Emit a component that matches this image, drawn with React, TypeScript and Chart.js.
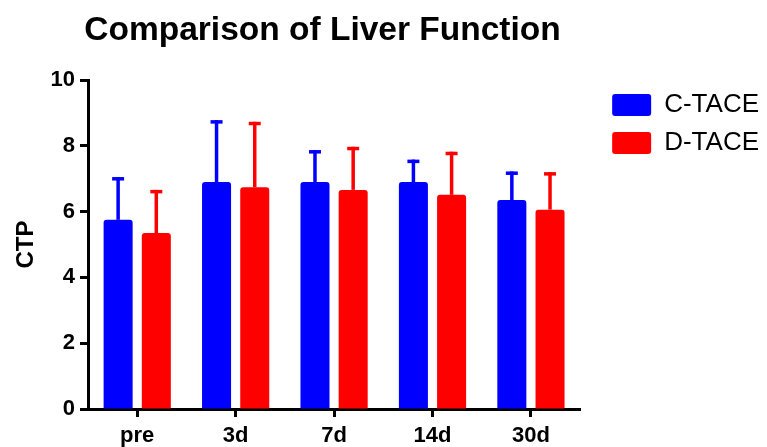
import React, { useEffect, useRef } from "react";
import { Chart, registerables } from "chart.js";

Chart.register(...registerables);

const categories = ["pre", "3d", "7d", "14d", "30d"];
const seriesNames = ["C-TACE", "D-TACE"];
const cTaceMean = [5.75, 6.9, 6.9, 6.9, 6.35];
const cTaceSD = [1.3, 1.88, 0.97, 0.68, 0.87];
const dTaceMean = [5.35, 6.74, 6.66, 6.51, 6.06];
const dTaceSD = [1.31, 1.99, 1.31, 1.31, 1.14];
const yTicks = [0, 2, 4, 6, 8, 10];
const titleText = "Comparison of Liver Function";
const yTitle = "CTP";

const FONT = '"Liberation Sans", Arial, Helvetica, sans-serif';
const BLUE = "#0000FF";
const RED = "#FF0000";

const errorBarPlugin = {
  id: "errorBars",
  afterDatasetsDraw(chart: any) {
    const ctx = chart.ctx;
    const yScale = chart.scales.y;
    chart.data.datasets.forEach((ds: any, di: number) => {
      const meta = chart.getDatasetMeta(di);
      if (meta.hidden) return;
      const sds: number[] = ds.sd;
      meta.data.forEach((bar: any, i: number) => {
        const top = yScale.getPixelForValue(ds.data[i] + sds[i]);
        const lw = 3.5;
        ctx.save();
        ctx.strokeStyle = ds.backgroundColor;
        ctx.lineWidth = lw;
        ctx.lineCap = "butt";
        ctx.beginPath();
        ctx.moveTo(bar.x, bar.y);
        ctx.lineTo(bar.x, top);
        ctx.stroke();
        ctx.beginPath();
        ctx.moveTo(bar.x - 6, top + lw / 2);
        ctx.lineTo(bar.x + 6, top + lw / 2);
        ctx.stroke();
        ctx.restore();
      });
    });
  },
};

const titlePlugin = {
  id: "customTitle",
  afterDraw(chart: any) {
    const ctx = chart.ctx;
    ctx.save();
    ctx.font = `bold 33.5px ${FONT}`;
    ctx.fillStyle = "#000";
    ctx.textAlign = "center";
    ctx.textBaseline = "alphabetic";
    ctx.fillText(titleText, 322.5, 40);
    ctx.restore();
  },
};

export default function App() {
  const canvasRef = useRef<HTMLCanvasElement | null>(null);

  useEffect(() => {
    if (!canvasRef.current) return;
    const chart = new Chart(canvasRef.current, {
      type: "bar",
      data: {
        labels: categories,
        datasets: [
          {
            label: seriesNames[0],
            data: cTaceMean,
            sd: cTaceSD,
            backgroundColor: BLUE,
            borderRadius: 3,
            categoryPercentage: 0.776,
            barPercentage: 0.76,
          } as any,
          {
            label: seriesNames[1],
            data: dTaceMean,
            sd: dTaceSD,
            backgroundColor: RED,
            borderRadius: 3,
            categoryPercentage: 0.776,
            barPercentage: 0.76,
          } as any,
        ],
      },
      options: {
        animation: false,
        responsive: false,
        devicePixelRatio: 1,
        layout: { padding: { top: 80, left: 0, right: -2, bottom: 0 } },
        plugins: {
          title: { display: false },
          tooltip: { enabled: false },
          legend: {
            display: true,
            position: "right",
            align: "start",
            maxWidth: 400,
            labels: {
              boxWidth: 39,
              boxHeight: 22,
              padding: 12,
              color: "#000",
              useBorderRadius: true,
              borderRadius: 3,
              font: { family: FONT, size: 26, weight: "normal" },
            },
          },
        },
        scales: {
          x: {
            type: "category",
            grid: {
              display: true,
              drawOnChartArea: false,
              drawTicks: true,
              tickLength: 8,
              tickWidth: 3,
              color: "#000",
              offset: false,
            },
            border: { display: true, color: "#000", width: 3 },
            ticks: {
              color: "#000",
              padding: 6,
              font: { family: FONT, size: 22, weight: "bold" },
            },
            afterFit: (s: any) => {
              s.height = 38;
            },
          },
          y: {
            type: "linear",
            min: 0,
            max: 10,
            afterBuildTicks: (s: any) => {
              s.ticks = yTicks.map((v) => ({ value: v }));
            },
            grid: {
              display: true,
              drawOnChartArea: false,
              drawTicks: true,
              tickLength: 8,
              tickWidth: 3,
              color: "#000",
            },
            border: { display: true, color: "#000", width: 3 },
            ticks: {
              color: "#000",
              padding: 5,
              font: { family: FONT, size: 22, weight: "bold" },
            },
            title: {
              display: true,
              text: yTitle,
              color: "#000",
              padding: { top: 12, bottom: 0 },
              font: { family: FONT, size: 24, weight: "bold" },
            },
            afterFit: (s: any) => {
              s.width = 88;
            },
          },
          gap: {
            type: "linear",
            axis: "y",
            position: "right",
            display: true,
            grid: { display: false, drawTicks: false },
            border: { display: false },
            ticks: { display: false },
            afterFit: (s: any) => {
              s.width = 20;
            },
          },
        } as any,
      },
      plugins: [errorBarPlugin, titlePlugin],
    });
    return () => chart.destroy();
  }, []);

  return (
    <div
      style={{
        position: "absolute",
        left: 0,
        top: 0,
        width: 767,
        height: 447,
        background: "#fff",
      }}
    >
      <canvas
        ref={canvasRef}
        width={767}
        height={447}
        style={{ width: 767, height: 447, display: "block" }}
      />
    </div>
  );
}
